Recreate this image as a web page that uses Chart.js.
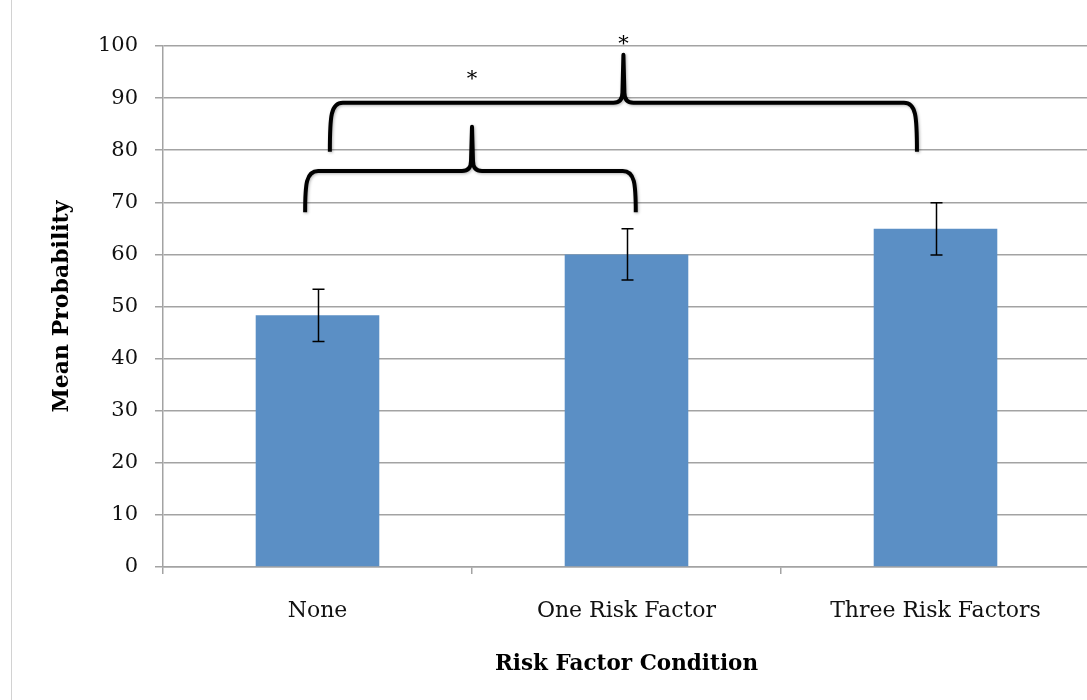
<!DOCTYPE html>
<html>
<head>
<meta charset="utf-8">
<script src="https://cdn.jsdelivr.net/npm/chart.js@4/dist/chart.umd.min.js"></script>
<style>
  html, body { margin: 0; padding: 0; background: #fff; overflow: hidden; }
  #caja { position: relative; width: 1092px; height: 700px; }
</style>
</head>
<body>
<div id="caja"><canvas id="myChart" width="1092" height="700"></canvas></div>
<script>
// datos
const categorias = ['None', 'One Risk Factor', 'Three Risk Factors'];
const medias = [48.3, 60.0, 64.9];
const errores = [5.0, 4.9, 5.0];

// llaves de significacion (x en unidades de categoria, y en valor)
const llaveDesde = [-0.04, 0.04];
const llaveHasta = [1.03, 1.94];
const llavePunta = [0.5, 0.99];
const llaveBase = [68.1, 79.7];
const llaveBarra = [76.0, 89.1];
const llaveCima = [84.5, 98.3];
const estrellaY = [94.8, 101.5];
const estrellas = ['*', '*'];

const fuente = 'DejaVu Serif';
const gris = '#a3a3a3';

//fondo y linea de marco a la izquierda
const fondo = {
  id: 'fondo',
  beforeDraw(chart){
    const ctx = chart.ctx;
    ctx.save();
    ctx.fillStyle = '#fff';
    ctx.fillRect(0, 0, chart.width, chart.height);
    ctx.strokeStyle = '#d2d2d2';
    ctx.lineWidth = 1;
    ctx.beginPath();
    ctx.moveTo(11.5, 0);
    ctx.lineTo(11.5, chart.height);
    ctx.stroke();
    ctx.restore();
  }
};

//barras de error
const barrasError = {
  id: 'barrasError',
  afterDatasetsDraw(chart){
    const ctx = chart.ctx;
    const y = chart.scales.y;
    const meta = chart.getDatasetMeta(0);
    ctx.save();
    ctx.strokeStyle = '#000';
    ctx.lineWidth = 1.5;
    meta.data.forEach((bar, i) => {
      const x = Math.round(bar.x) + 0.5;
      const yAlto = y.getPixelForValue(medias[i] + errores[i]);
      const yBajo = y.getPixelForValue(medias[i] - errores[i]);
      ctx.beginPath();
      ctx.moveTo(x, yAlto); ctx.lineTo(x, yBajo);
      ctx.moveTo(x - 6, yAlto); ctx.lineTo(x + 6, yAlto);
      ctx.moveTo(x - 6, yBajo); ctx.lineTo(x + 6, yBajo);
      ctx.stroke();
    });
    ctx.restore();
  }
};

//llaves con asterisco
const llaves = {
  id: 'llaves',
  afterDraw(chart){
    const ctx = chart.ctx;
    const xs = chart.scales.x;
    const ys = chart.scales.y;
    ctx.save();
    for (let i = 0; i < llaveDesde.length; i++){
      const xL = xs.getPixelForValue(llaveDesde[i]);
      const xR = xs.getPixelForValue(llaveHasta[i]);
      const xP = xs.getPixelForValue(llavePunta[i]);
      const yB = ys.getPixelForValue(llaveBase[i]);
      const yH = ys.getPixelForValue(llaveBarra[i]);
      const yC = ys.getPixelForValue(llaveCima[i]);
      const r = 13, c = 10;
      ctx.strokeStyle = '#000';
      ctx.lineWidth = 4;
      ctx.lineJoin = 'round';
      ctx.shadowColor = 'rgba(0,0,0,0.3)';
      ctx.shadowBlur = 3;
      ctx.shadowOffsetX = 1;
      ctx.shadowOffsetY = 1;
      ctx.beginPath();
      ctx.moveTo(xL, yB);
      ctx.bezierCurveTo(xL, yH + r, xL + 1, yH, xL + r, yH);
      ctx.lineTo(xP - c, yH);
      ctx.quadraticCurveTo(xP - 1, yH, xP - 1, yH - c);
      ctx.lineTo(xP, yC);
      ctx.lineTo(xP + 1, yH - c);
      ctx.quadraticCurveTo(xP + 1, yH, xP + c, yH);
      ctx.lineTo(xR - r, yH);
      ctx.bezierCurveTo(xR - 1, yH, xR, yH + r, xR, yB);
      ctx.stroke();

      ctx.shadowColor = 'transparent';
      ctx.fillStyle = '#000';
      ctx.font = '21px "' + fuente + '"';
      ctx.textAlign = 'center';
      ctx.textBaseline = 'alphabetic';
      ctx.fillText(estrellas[i], xP, ys.getPixelForValue(estrellaY[i]) + 12);
    }
    ctx.restore();
  }
};

const data = {
  labels: categorias,
  datasets: [{
    label: 'Mean Probability',
    data: medias,
    backgroundColor: '#5b8fc5',
    barPercentage: 0.4,
    categoryPercentage: 1.0
  }]
};

const config = {
  type: 'bar',
  data: data,
  options: {
    responsive: false,
    animation: false,
    devicePixelRatio: 1,
    layout: { padding: { top: 46, right: 2, left: 0, bottom: 0 } },
    plugins: {
      legend: { display: false },
      tooltip: { enabled: false }
    },
    scales: {
      x: {
        grid: { drawOnChartArea: false, drawTicks: true, tickLength: 7, color: gris, lineWidth: 1.5, offset: true },
        border: { color: gris, width: 1.5 },
        ticks: { color: '#111', font: { family: fuente, size: 22 }, padding: 24 },
        title: {
          display: true,
          text: 'Risk Factor Condition',
          color: '#000',
          font: { family: fuente, size: 21.5, weight: 'bold' },
          padding: { top: 0, bottom: 23 }
        },
        afterFit: s => { s.height = 133; }
      },
      y: {
        min: 0,
        max: 100,
        ticks: { stepSize: 10, color: '#111', font: { family: fuente, size: 21 }, padding: 17 },
        grid: { color: gris, lineWidth: 1.5, tickLength: 8 },
        border: { color: gris, width: 1.5 },
        title: {
          display: true,
          text: 'Mean Probability',
          color: '#000',
          font: { family: fuente, size: 22, weight: 'bold' },
          padding: { top: 49, bottom: 0 }
        },
        afterFit: s => { s.width = 163; }
      }
    }
  },
  plugins: [fondo, barrasError, llaves]
};

const myChart = new Chart(document.getElementById('myChart'), config);
</script>
</body>
</html>
